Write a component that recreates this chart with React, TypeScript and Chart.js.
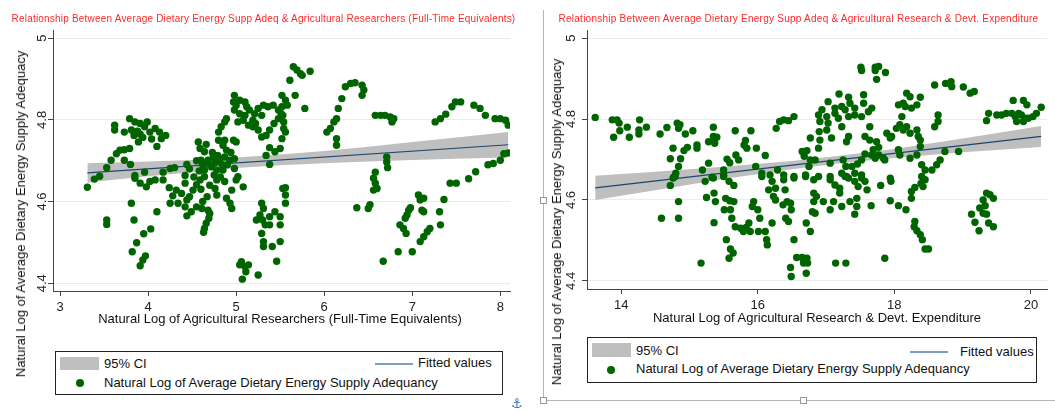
import React, { useEffect, useRef } from "react";
import { Chart, registerables } from "chart.js";

Chart.register(...registerables);

// ---------- shared tick labels ----------
const adequacyYTicks = [4.4, 4.6, 4.8, 5];
const researchersXTicks = [3, 4, 5, 6, 7, 8];
const expenditureXTicks = [14, 16, 18, 20];

// ---------- left panel: researchers (FTE) ----------
const researchersPoints: [number, number][] = [
  [3.31, 4.635], [3.39, 4.655], [3.45, 4.662], [3.53, 4.683], [3.58, 4.701], [3.64, 4.717], [3.68, 4.726],
  [3.73, 4.727], [3.79, 4.73], [3.62, 4.787], [3.62, 4.775], [3.73, 4.77], [3.79, 4.803], [3.85, 4.795],
  [3.91, 4.791], [3.99, 4.795], [3.81, 4.775], [3.84, 4.762], [3.91, 4.765], [3.94, 4.757], [3.89, 4.746],
  [4.08, 4.779], [4.13, 4.77], [4.2, 4.762], [4.15, 4.754], [4.04, 4.753], [4.1, 4.735], [3.73, 4.701],
  [3.8, 4.691], [3.85, 4.664], [3.96, 4.672], [4.17, 4.672], [4.25, 4.681], [4.3, 4.683], [4.44, 4.691],
  [4.42, 4.664], [3.88, 4.772], [3.96, 4.783], [4.02, 4.77],
  [4.57, 4.746], [4.59, 4.73], [4.64, 4.722], [4.6, 4.701], [4.68, 4.701], [4.74, 4.709], [4.79, 4.713],
  [4.81, 4.701], [4.87, 4.709], [4.89, 4.726], [4.85, 4.738], [4.8, 4.75], [4.8, 4.77], [4.83, 4.783],
  [4.87, 4.795], [4.89, 4.803], [4.93, 4.701], [4.98, 4.705], [4.98, 4.681], [4.64, 4.677], [4.72, 4.685],
  [4.78, 4.677], [4.85, 4.677], [4.97, 4.75], [5.0, 4.746],
  [4.55, 4.7], [4.62, 4.69], [4.7, 4.69], [4.75, 4.665], [4.82, 4.66], [4.7, 4.64], [4.6, 4.63], [4.52, 4.66],
  [4.47, 4.68], [4.9, 4.69], [4.94, 4.72], [4.73, 4.72], [4.66, 4.74], [4.87, 4.75], [4.58, 4.675],
  [4.76, 4.695], [4.84, 4.69],
  [4.98, 4.86], [4.97, 4.844], [5.0, 4.836], [5.04, 4.848], [5.1, 4.844], [5.12, 4.832], [4.98, 4.824],
  [5.04, 4.815], [5.1, 4.811], [5.15, 4.824], [5.21, 4.815], [5.25, 4.828], [5.31, 4.836], [5.36, 4.832],
  [5.42, 4.836], [5.48, 4.824], [5.51, 4.815], [5.02, 4.795], [5.08, 4.799], [5.14, 4.787], [5.19, 4.783],
  [5.22, 4.791], [5.25, 4.775], [5.29, 4.758], [5.34, 4.762], [5.38, 4.775], [5.43, 4.791], [5.48, 4.803],
  [5.53, 4.811], [5.38, 4.732], [5.44, 4.722], [5.5, 4.73], [5.34, 4.713], [5.38, 4.691], [5.19, 4.799],
  [5.29, 4.811],
  [3.53, 4.555], [3.53, 4.544], [3.81, 4.596], [3.84, 4.555], [4.1, 4.575], [4.03, 4.533], [3.95, 4.521],
  [3.87, 4.499], [3.82, 4.477], [3.97, 4.467], [3.94, 4.457], [3.91, 4.443], [3.85, 4.657], [3.91, 4.645],
  [3.98, 4.636], [4.02, 4.649], [4.08, 4.653], [4.17, 4.653], [4.24, 4.634], [4.25, 4.596], [4.28, 4.614],
  [4.32, 4.628], [4.34, 4.596], [4.38, 4.62], [4.42, 4.645], [4.44, 4.604], [4.42, 4.587], [4.44, 4.565],
  [4.49, 4.575], [4.47, 4.612], [4.51, 4.628], [4.55, 4.641], [4.59, 4.653], [4.64, 4.661], [4.55, 4.587],
  [4.61, 4.583], [4.62, 4.6], [4.67, 4.612], [4.68, 4.579], [4.7, 4.571], [4.69, 4.559], [4.66, 4.547],
  [4.64, 4.534], [4.63, 4.525], [4.78, 4.653], [4.76, 4.632], [4.78, 4.616], [4.87, 4.649], [4.89, 4.608],
  [4.95, 4.628], [4.93, 4.596], [4.95, 4.583], [5.0, 4.653], [5.08, 4.636], [5.02, 4.661], [5.04, 4.445],
  [5.06, 4.453], [5.1, 4.441], [5.14, 4.445], [5.11, 4.428], [5.07, 4.41], [5.29, 4.596], [5.31, 4.583],
  [5.27, 4.567], [5.23, 4.555], [5.3, 4.555], [5.33, 4.543], [5.38, 4.543], [5.38, 4.563], [5.44, 4.575],
  [5.5, 4.563], [5.5, 4.543], [5.29, 4.522], [5.31, 4.502], [5.31, 4.49], [5.41, 4.49], [5.5, 4.502],
  [5.46, 4.454], [5.25, 4.42], [5.53, 4.632],
  [5.65, 4.93], [5.69, 4.922], [5.73, 4.913], [5.75, 4.909], [5.84, 4.919], [5.61, 4.897], [5.67, 4.86],
  [5.52, 4.86], [5.56, 4.848], [5.58, 4.836], [5.52, 4.832], [5.78, 4.828], [5.54, 4.795], [5.54, 4.779],
  [5.56, 4.77], [5.52, 4.754], [6.03, 4.77], [6.07, 4.779], [6.11, 4.795], [6.14, 4.803], [6.16, 4.828],
  [6.2, 4.852], [6.24, 4.881], [6.3, 4.889], [6.35, 4.891], [6.43, 4.885], [6.45, 4.873], [6.43, 4.86],
  [6.14, 4.754], [6.14, 4.738], [6.58, 4.811], [6.64, 4.811], [6.69, 4.811], [6.75, 4.807], [6.79, 4.803],
  [6.77, 4.795], [6.71, 4.709], [6.71, 4.697], [6.72, 4.683], [6.58, 4.672], [7.26, 4.795], [7.32, 4.803],
  [7.38, 4.814], [7.45, 4.832], [7.49, 4.844], [7.55, 4.844], [7.7, 4.836], [7.77, 4.828], [7.83, 4.811],
  [7.94, 4.803], [8.0, 4.803], [8.06, 4.799], [8.09, 4.787], [7.92, 4.693], [8.0, 4.701], [8.04, 4.717],
  [8.09, 4.719], [7.72, 4.673], [7.64, 4.656], [7.86, 4.69], [7.43, 4.645],
  [5.56, 4.634], [5.56, 4.616], [5.56, 4.596], [6.56, 4.657], [6.58, 4.645], [6.56, 4.628], [6.6, 4.632],
  [6.52, 4.592], [6.5, 4.583], [6.37, 4.585], [6.67, 4.454], [6.84, 4.477], [7.0, 4.477], [6.86, 4.543],
  [6.9, 4.534], [6.93, 4.522], [6.94, 4.567], [6.96, 4.579], [6.98, 4.585], [6.92, 4.559], [7.07, 4.616],
  [7.09, 4.604], [7.13, 4.608], [7.11, 4.579], [7.13, 4.575], [7.09, 4.502], [7.13, 4.514], [7.17, 4.526],
  [7.2, 4.534], [7.31, 4.575], [7.32, 4.543], [7.36, 4.605], [7.5, 4.645],
];
const researchersFitX = [3.31, 8.09];
const researchersFitY = [4.67, 4.739];
const researchersCiX = [3.31, 3.5, 4.0, 4.5, 5.0, 5.5, 6.0, 6.5, 7.0, 7.5, 8.09];
const researchersCiLower = [4.646, 4.651, 4.662, 4.672, 4.682, 4.689, 4.694, 4.698, 4.702, 4.705, 4.708];
const researchersCiUpper = [4.694, 4.695, 4.698, 4.702, 4.708, 4.715, 4.724, 4.734, 4.746, 4.757, 4.77];

// ---------- right panel: R&D expenditure ----------
const expenditurePoints: [number, number][] = [
  [13.62, 4.804], [13.87, 4.798], [13.94, 4.798], [13.97, 4.79], [13.98, 4.771], [13.89, 4.755], [14.09, 4.78],
  [14.12, 4.755], [14.27, 4.798], [14.26, 4.773], [14.26, 4.763], [14.37, 4.78], [14.57, 4.763], [14.67, 4.779],
  [14.82, 4.79], [14.86, 4.786], [14.84, 4.777], [14.94, 4.763], [15.05, 4.771], [14.76, 4.728], [14.72, 4.702],
  [14.87, 4.702], [14.92, 4.722], [14.97, 4.73], [14.84, 4.683], [14.8, 4.666], [14.77, 4.656], [15.11, 4.736],
  [15.11, 4.728], [15.19, 4.674], [15.28, 4.691], [15.28, 4.744], [15.35, 4.78], [15.35, 4.757], [15.4, 4.755],
  [15.37, 4.74], [15.33, 4.656], [15.5, 4.674], [15.5, 4.662], [15.55, 4.701], [15.59, 4.692], [15.67, 4.771],
  [15.68, 4.711], [15.72, 4.699], [15.82, 4.747], [15.8, 4.736], [15.84, 4.728], [15.9, 4.771], [15.98, 4.728],
  [15.97, 4.683], [16.11, 4.71], [16.06, 4.666], [16.18, 4.662], [16.29, 4.674], [16.27, 4.777], [16.32, 4.794],
  [16.38, 4.798], [16.45, 4.796], [16.53, 4.806], [16.38, 4.662], [16.53, 4.658], [16.65, 4.72], [16.72, 4.722],
  [16.68, 4.708], [16.77, 4.699], [16.75, 4.683], [16.77, 4.753], [16.7, 4.662],
  [14.72, 4.636], [14.76, 4.654], [14.79, 4.658], [14.84, 4.596], [14.59, 4.555], [14.84, 4.555], [15.23, 4.646],
  [15.35, 4.654], [15.25, 4.606], [15.36, 4.617], [15.38, 4.596], [15.36, 4.544], [15.5, 4.658], [15.58, 4.646],
  [15.65, 4.636], [15.53, 4.604], [15.59, 4.598], [15.65, 4.596], [15.51, 4.576], [15.6, 4.576], [15.62, 4.555],
  [15.67, 4.534], [15.75, 4.53], [15.79, 4.522], [15.83, 4.532], [15.89, 4.522], [15.87, 4.543], [15.94, 4.596],
  [15.92, 4.584], [16.0, 4.576], [16.01, 4.522], [16.11, 4.522], [16.03, 4.555], [15.54, 4.502], [15.6, 4.479],
  [15.64, 4.469], [15.58, 4.456], [15.17, 4.444], [16.13, 4.502], [16.14, 4.489], [16.06, 4.658], [16.16, 4.625],
  [16.21, 4.646], [16.26, 4.629], [16.23, 4.609], [16.26, 4.6], [16.38, 4.65], [16.4, 4.625], [16.37, 4.588],
  [16.43, 4.596], [16.48, 4.592], [16.49, 4.576], [16.41, 4.555], [16.45, 4.547], [16.53, 4.502], [16.21, 4.543],
  [16.53, 4.654], [16.57, 4.458], [16.65, 4.458], [16.72, 4.456], [16.67, 4.444], [16.73, 4.444], [16.48, 4.433],
  [16.49, 4.411], [16.71, 4.419], [16.7, 4.658], [16.82, 4.65], [16.71, 4.543], [16.77, 4.522], [16.82, 4.617],
  [16.82, 4.596], [16.8, 4.571],
  [17.51, 4.928], [17.52, 4.92], [17.72, 4.928], [17.77, 4.93], [17.72, 4.92], [17.74, 4.898], [17.87, 4.915],
  [18.59, 4.884], [18.75, 4.888], [18.83, 4.892], [18.84, 4.88], [19.01, 4.879], [19.11, 4.864], [19.17, 4.868],
  [17.19, 4.862], [17.33, 4.854], [17.35, 4.839], [17.23, 4.831], [17.13, 4.827], [17.03, 4.843], [16.94, 4.823],
  [16.89, 4.81], [17.01, 4.806], [17.13, 4.814], [17.28, 4.823], [17.42, 4.827], [17.55, 4.86], [17.55, 4.839],
  [17.67, 4.827], [17.62, 4.818], [16.91, 4.794], [17.03, 4.79], [17.18, 4.802], [17.33, 4.806], [17.42, 4.81],
  [17.52, 4.806], [16.9, 4.769], [17.01, 4.773], [17.08, 4.753], [17.23, 4.781], [16.91, 4.748], [16.89, 4.728],
  [17.64, 4.781], [17.57, 4.757], [17.33, 4.757], [17.3, 4.744], [17.64, 4.748], [18.06, 4.835], [18.13, 4.839],
  [18.18, 4.864], [18.23, 4.855], [18.38, 4.854], [18.16, 4.831], [18.25, 4.827], [18.33, 4.835], [18.11, 4.806],
  [18.08, 4.786], [18.03, 4.777], [18.13, 4.773], [18.18, 4.781], [18.23, 4.765], [18.33, 4.773], [18.35, 4.757],
  [18.38, 4.748], [18.38, 4.732], [18.64, 4.81], [18.64, 4.794], [18.59, 4.781], [17.89, 4.765], [17.96, 4.757],
  [17.94, 4.753], [17.74, 4.744], [17.77, 4.73], [17.69, 4.724], [17.67, 4.711], [17.77, 4.711], [17.84, 4.703],
  [17.86, 4.699], [17.72, 4.703], [17.57, 4.714], [17.52, 4.699], [17.46, 4.689], [17.38, 4.683], [17.25, 4.699],
  [17.29, 4.683], [17.06, 4.691], [16.84, 4.699], [18.06, 4.724], [18.08, 4.711], [18.23, 4.703], [18.33, 4.711],
  [18.4, 4.687], [18.45, 4.674], [18.55, 4.674], [18.62, 4.687], [18.67, 4.699], [18.74, 4.72], [18.94, 4.72],
  [19.38, 4.814], [19.35, 4.796], [19.5, 4.81], [19.57, 4.81], [19.64, 4.814], [19.72, 4.814], [19.77, 4.806],
  [19.82, 4.814], [19.86, 4.81], [19.91, 4.802], [19.79, 4.794], [19.89, 4.794], [19.96, 4.802], [20.03, 4.806],
  [20.08, 4.814], [20.15, 4.829], [19.74, 4.846], [19.89, 4.846], [19.94, 4.835],
  [16.89, 4.658], [17.06, 4.658], [17.23, 4.666], [17.3, 4.658], [17.42, 4.666], [17.52, 4.662], [17.94, 4.654],
  [18.4, 4.658],
  [17.06, 4.65], [17.13, 4.637], [17.2, 4.629], [17.28, 4.658], [17.33, 4.654], [17.42, 4.646], [17.52, 4.654],
  [17.57, 4.646], [17.47, 4.633], [17.6, 4.625], [17.2, 4.617], [17.11, 4.596], [17.23, 4.584], [17.35, 4.596],
  [17.45, 4.604], [17.45, 4.584], [17.42, 4.565], [17.06, 4.576], [16.96, 4.596], [16.86, 4.609], [16.84, 4.567],
  [17.66, 4.586], [17.8, 4.636], [17.95, 4.646], [17.94, 4.598], [18.06, 4.586], [18.17, 4.576], [18.25, 4.604],
  [18.25, 4.621], [18.3, 4.631], [18.39, 4.641], [18.45, 4.65], [18.42, 4.633], [18.3, 4.547], [18.29, 4.534],
  [18.33, 4.524], [18.38, 4.514], [18.41, 4.502], [18.45, 4.479], [18.5, 4.479], [17.14, 4.444], [17.29, 4.444],
  [17.86, 4.456], [19.35, 4.617], [19.4, 4.613], [19.45, 4.604], [19.3, 4.6], [19.33, 4.586], [19.25, 4.58],
  [19.3, 4.567], [19.35, 4.565], [19.13, 4.565], [19.18, 4.545], [19.24, 4.524], [19.38, 4.543], [19.45, 4.534],
];
const expenditureFitX = [13.62, 20.15];
const expenditureFitY = [4.63, 4.757];
const expenditureCiX = [13.62, 14.5, 15.5, 16.5, 17.2, 18.0, 19.0, 20.15];
const expenditureCiLower = [4.6, 4.624, 4.652, 4.676, 4.691, 4.704, 4.718, 4.731];
const expenditureCiUpper = [4.66, 4.67, 4.682, 4.696, 4.709, 4.726, 4.752, 4.783];

// ---------- text ----------
const researchersTitle =
  "Relationship Between Average Dietary Energy Supp Adeq & Agricultural Researchers (Full-Time Equivalents)";
const expenditureTitle =
  "Relationship Between Average Dietary Energy Supp Adeq & Agricultural Research & Devt. Expenditure";
const yAxisTitle = "Natural Log of Average Dietary Energy Supply Adequacy";
const researchersXTitle = "Natural Log of Agricultural Researchers (Full-Time Equivalents)";
const expenditureXTitle = "Natural Log of Agricultural Research & Devt. Expenditure";
const legendCi = "95% CI";
const legendFit = "Fitted values";
const legendScatter = "Natural Log of Average Dietary Energy Supply Adequancy";

const FONT = "'Liberation Sans', Arial, Helvetica, sans-serif";
const GREEN = "#006400";
const BAND = "#bfbfbf";
const FITLINE = "#1a476f";

const rotatedYTicks = {
  id: "rotatedYTicks",
  afterDraw(chart: any, _args: any, opts: any) {
    const scale = chart.scales.y;
    const ctx = chart.ctx;
    ctx.save();
    ctx.fillStyle = "#222";
    ctx.font = `13px ${FONT}`;
    ctx.textAlign = "center";
    ctx.textBaseline = "middle";
    for (const t of scale.ticks) {
      const py = scale.getPixelForValue(t.value);
      ctx.save();
      ctx.translate(chart.chartArea.left - opts.offset, py);
      ctx.rotate(-Math.PI / 2);
      ctx.fillText(String(t.value), 0, 0);
      ctx.restore();
    }
    ctx.restore();
  },
};

type PanelProps = {
  left: number;
  width: number;
  height: number;
  padding: { left: number; right: number; top: number; bottom: number };
  xMin: number;
  xMax: number;
  yMin: number;
  yMax: number;
  xTicks: number[];
  points: [number, number][];
  fitX: number[];
  fitY: number[];
  ciX: number[];
  ciLower: number[];
  ciUpper: number[];
  yLabelOffset: number;
};

function Panel(p: PanelProps) {
  const ref = useRef<HTMLCanvasElement | null>(null);
  useEffect(() => {
    if (!ref.current) return;
    const chart = new Chart(ref.current, {
      type: "scatter",
      data: {
        datasets: [
          {
            type: "scatter",
            data: p.points.map(([x, y]) => ({ x, y })),
            pointRadius: 3.7,
            pointBackgroundColor: GREEN,
            pointBorderWidth: 0,
            pointBorderColor: GREEN,
            order: 0,
          } as any,
          {
            type: "line",
            data: p.fitX.map((x, i) => ({ x, y: p.fitY[i] })),
            borderColor: FITLINE,
            borderWidth: 1.2,
            pointRadius: 0,
            fill: false,
            order: 1,
          } as any,
          {
            type: "line",
            data: p.ciX.map((x, i) => ({ x, y: p.ciUpper[i] })),
            borderColor: "rgba(0,0,0,0)",
            borderWidth: 1,
            pointRadius: 0,
            fill: false,
            order: 2,
          } as any,
          {
            type: "line",
            data: p.ciX.map((x, i) => ({ x, y: p.ciLower[i] })),
            borderColor: "rgba(0,0,0,0)",
            borderWidth: 1,
            pointRadius: 0,
            backgroundColor: BAND,
            fill: 2,
            order: 3,
          } as any,
        ],
      },
      options: {
        responsive: false,
        animation: false,
        devicePixelRatio: 1,
        events: [],
        layout: { padding: p.padding },
        plugins: {
          legend: { display: false },
          tooltip: { enabled: false },
          title: { display: false },
          rotatedYTicks: { offset: p.yLabelOffset },
        } as any,
        scales: {
          x: {
            type: "linear",
            min: p.xMin,
            max: p.xMax,
            afterBuildTicks: (axis: any) => {
              axis.ticks = p.xTicks.map((v) => ({ value: v }));
            },
            ticks: {
              autoSkip: false,
              maxRotation: 0,
              minRotation: 0,
              padding: 4,
              color: "#222",
              font: { family: FONT, size: 13 },
              callback: (v: any) => String(v),
            },
            grid: {
              drawOnChartArea: false,
              drawTicks: true,
              tickLength: 5,
              tickColor: "#444",
              color: "#444",
            },
            border: { display: true, color: "#444", width: 1 },
          },
          y: {
            type: "linear",
            min: p.yMin,
            max: p.yMax,
            afterBuildTicks: (axis: any) => {
              axis.ticks = adequacyYTicks.map((v) => ({ value: v }));
            },
            ticks: { display: false },
            grid: {
              drawOnChartArea: true,
              drawTicks: true,
              tickLength: 5,
              tickColor: "#444",
              color: "#e3eeee",
              lineWidth: 1,
            },
            border: { display: true, color: "#444", width: 1 },
          },
        },
      } as any,
      plugins: [rotatedYTicks],
    });
    return () => chart.destroy();
  }, []);
  return (
    <canvas
      ref={ref}
      width={p.width}
      height={p.height}
      style={{ position: "absolute", left: p.left, top: 0, width: p.width, height: p.height }}
    />
  );
}

const textBase: React.CSSProperties = {
  position: "absolute",
  fontFamily: FONT,
  whiteSpace: "nowrap",
  color: "#111",
};

function Legend(props: {
  box: [number, number, number, number];
  swatch: [number, number, number, number];
  ciText: [number, number];
  line: [number, number, number];
  fitText: [number, number];
  dot: [number, number];
  scatterText: [number, number];
}) {
  const { box, swatch, ciText, line, fitText, dot, scatterText } = props;
  return (
    <>
      <div
        style={{
          position: "absolute",
          left: box[0],
          top: box[1],
          width: box[2],
          height: box[3],
          border: "1px solid #222",
          boxSizing: "border-box",
          background: "#fff",
        }}
      />
      <div style={{ position: "absolute", left: swatch[0], top: swatch[1], width: swatch[2], height: swatch[3], background: BAND }} />
      <div style={{ ...textBase, left: ciText[0], top: ciText[1] - 8, fontSize: 13, lineHeight: "16px" }}>{legendCi}</div>
      <div style={{ position: "absolute", left: line[0], top: line[1], width: line[2], height: 1.5, background: "#7f9cc4" }} />
      <div style={{ ...textBase, left: fitText[0], top: fitText[1] - 8, fontSize: 13, lineHeight: "16px" }}>{legendFit}</div>
      <div
        style={{
          position: "absolute",
          left: dot[0] - 4,
          top: dot[1] - 4,
          width: 8,
          height: 8,
          borderRadius: "50%",
          background: GREEN,
        }}
      />
      <div style={{ ...textBase, left: scatterText[0], top: scatterText[1] - 8, fontSize: 13, lineHeight: "16px" }}>
        {legendScatter}
      </div>
    </>
  );
}

export default function App() {
  return (
    <div
      style={{
        position: "fixed",
        left: 0,
        top: 0,
        width: 1055,
        height: 413,
        background: "#fff",
        overflow: "hidden",
      }}
    >
      <Panel
        left={0}
        width={530}
        height={330}
        padding={{ left: 48, right: 20, top: 30, bottom: 10.4 }}
        xMin={2.92}
        xMax={8.11}
        yMin={4.381}
        yMax={5.02}
        xTicks={researchersXTicks}
        points={researchersPoints}
        fitX={researchersFitX}
        fitY={researchersFitY}
        ciX={researchersCiX}
        ciLower={researchersCiLower}
        ciUpper={researchersCiUpper}
        yLabelOffset={11}
      />
      <Panel
        left={530}
        width={525}
        height={330}
        padding={{ left: 52, right: 8, top: 30, bottom: 12.4 }}
        xMin={13.5}
        xMax={20.235}
        yMin={4.38}
        yMax={5.02}
        xTicks={expenditureXTicks}
        points={expenditurePoints}
        fitX={expenditureFitX}
        fitY={expenditureFitY}
        ciX={expenditureCiX}
        ciLower={expenditureCiLower}
        ciUpper={expenditureCiUpper}
        yLabelOffset={15.5}
      />

      {/* chart titles */}
      <div style={{ ...textBase, left: 0, width: 527, top: 13, textAlign: "center", fontSize: 10, lineHeight: "12px", letterSpacing: "0.2px", color: "#ff2a2a" }}>
        {researchersTitle}
      </div>
      <div style={{ ...textBase, left: 548, width: 501, top: 13, textAlign: "center", fontSize: 10, lineHeight: "12px", letterSpacing: "0.25px", color: "#ff2a2a" }}>
        {expenditureTitle}
      </div>

      {/* y axis titles */}
      <div style={{ ...textBase, left: 21, top: 213.5, fontSize: 13, lineHeight: "16px", transform: "translate(-50%, -50%) rotate(-90deg)" }}>
        {yAxisTitle}
      </div>
      <div style={{ ...textBase, left: 557, top: 222, fontSize: 13, lineHeight: "16px", transform: "translate(-50%, -50%) rotate(-90deg)" }}>
        {yAxisTitle}
      </div>

      {/* x axis titles */}
      <div style={{ ...textBase, left: 80, width: 400, top: 311, textAlign: "center", fontSize: 13, lineHeight: "16px" }}>
        {researchersXTitle}
      </div>
      <div style={{ ...textBase, left: 617, width: 400, top: 310, textAlign: "center", fontSize: 13, lineHeight: "16px" }}>
        {expenditureXTitle}
      </div>

      {/* legends */}
      <Legend
        box={[55, 351, 448, 44]}
        swatch={[60, 357, 39, 13]}
        ciText={[104, 364]}
        line={[375, 363, 38]}
        fitText={[418, 363]}
        dot={[80, 383]}
        scatterText={[104, 383]}
      />
      <Legend
        box={[587, 337, 450, 46]}
        swatch={[592, 343, 39, 14]}
        ciText={[636, 351]}
        line={[910, 351, 38]}
        fitText={[960, 352]}
        dot={[611, 370]}
        scatterText={[636, 369]}
      />

      {/* selection frame decorations around the right graph */}
      <div style={{ position: "absolute", left: 543, top: 10, width: 1, height: 390, background: "#b5b5b5" }} />
      <div style={{ position: "absolute", left: 543, top: 400, width: 512, height: 1, background: "#b5b5b5" }} />
      {[
        [543, 200],
        [543, 400],
        [803, 400],
      ].map(([x, y], i) => (
        <div
          key={i}
          style={{
            position: "absolute",
            left: x - 3,
            top: y - 3,
            width: 7,
            height: 7,
            border: "1px solid #9a9a9a",
            boxSizing: "border-box",
            background: "#fff",
          }}
        />
      ))}
      <div style={{ ...textBase, left: 511, top: 396, fontSize: 13, lineHeight: "16px", color: "#2f6db5", fontFamily: "'DejaVu Sans', sans-serif" }}>
        ⚓
      </div>
    </div>
  );
}
